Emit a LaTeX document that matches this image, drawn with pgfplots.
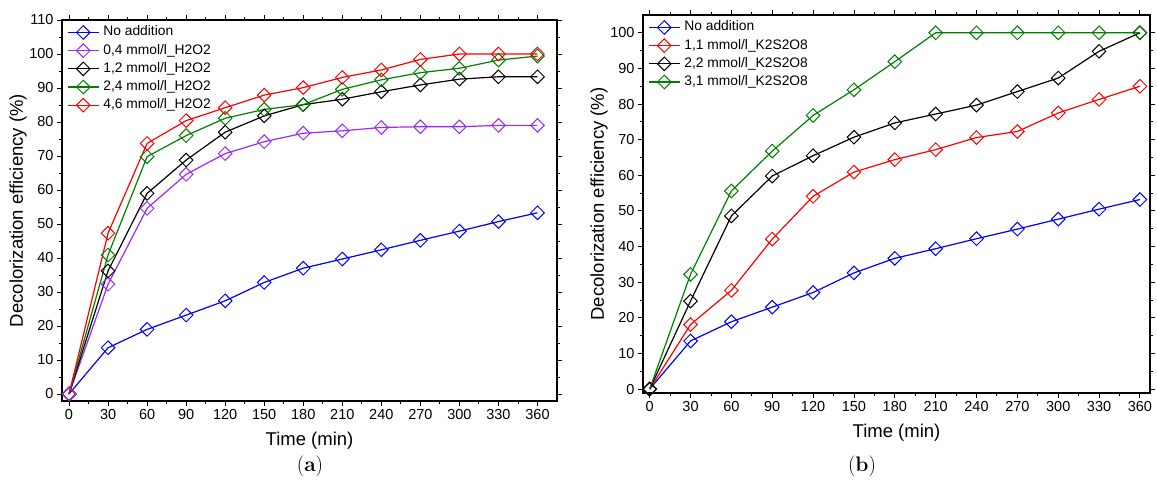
\documentclass[border=0pt]{standalone}
\usepackage{fontspec}
\newfontfamily\arial{Liberation Sans}
\newcommand\legfont{\arial\fontsize{13.8}{15}\selectfont}
\newcommand\tickfont{\arial\fontsize{14.5}{16}\selectfont}
\newcommand\labfont{\arial\fontsize{18.5}{21}\selectfont}
\usepackage{pgfplots}
\usepackage{pgfplotstable}
\pgfplotsset{compat=1.18}
\definecolor{cblue}{RGB}{0,0,255}
\definecolor{cpurple}{RGB}{155,40,255}
\definecolor{cgreen}{RGB}{0,128,0}
\definecolor{cred}{RGB}{255,0,0}
\pgfplotstableread{
t noadd a04 a12 a24 a46
0 0 0 0 0 0
30 13.6 32.3 36.2 40.9 47.3
60 19.0 54.6 59.0 69.8 73.7
90 23.2 64.6 68.8 76.0 80.4
120 27.4 70.7 77.0 81.1 84.2
150 32.8 74.2 81.8 83.7 87.9
180 37.0 76.7 85.1 85.1 90.1
210 39.7 77.4 86.7 89.6 93.1
240 42.4 78.4 88.9 92.4 95.3
270 45.2 78.6 90.9 94.5 98.4
300 47.9 78.6 92.6 95.8 100
330 50.7 79.0 93.3 98.2 100
360 53.3 79.0 93.3 99.4 100
}\tabA
\pgfplotstableread{
t noadd k11 k22 k31
0 0 0 0 0
30 13.5 18.1 24.7 32.2
60 18.9 27.7 48.6 55.6
90 23.0 42.1 59.8 66.8
120 27.1 54.1 65.5 76.8
150 32.6 60.9 70.7 84.0
180 36.7 64.4 74.7 91.9
210 39.4 67.2 77.2 100
240 42.2 70.6 79.7 100
270 44.9 72.3 83.5 100
300 47.7 77.5 87.3 100
330 50.5 81.3 94.8 100
360 53.2 85.0 100 100
}\tabB
\pgfplotsset{
  myaxis/.style={
    scale only axis,
    clip=false,
    axis line style={line width=1.1pt},
    every tick/.style={line width=0.9pt, black},
    tick align=outside,
    major tick length=5pt,
    minor tick length=3pt,
    minor x tick num=1,
    minor y tick num=1,
    xtick={0,30,...,360},
    /pgf/number format/assume math mode=true,
    ticklabel style={font=\tickfont},
    xlabel={Time (min)},
    ylabel={Decolorization efficiency (\%)},
    label style={font=\labfont},
    xlabel style={at={([yshift=-40pt]axis description cs:0.5,0)},anchor=center},
    ylabel style={at={([xshift=-44pt]axis description cs:0,0.5)},anchor=center},
    legend cell align=left,
    legend style={at={(rel axis cs:0,1)}, anchor=north west, draw=none, fill=none,
      inner xsep=5pt, inner ysep=5.5pt, row sep=4.6pt, column sep=4pt,
      font=\legfont,
      nodes={inner sep=0pt, text height=10pt, text depth=3pt, font=\legfont}},
    legend image code/.code={\draw[mark repeat=2,mark phase=2,##1] plot coordinates {(0pt,0pt)(15.5pt,0pt)(31pt,0pt)};},
    every axis plot/.append style={line width=1.2pt, mark=square, mark size=4.8pt,
      mark options={rotate=45, fill=white, solid, line width=1pt}},
  }
}
\begin{document}
\begin{tikzpicture}[x=1pt,y=1pt]
\path[use as bounding box] (0,0) rectangle (1157,486);
\begin{axis}[myaxis, at={(62pt,85pt)}, anchor=south west, width=495pt, height=381pt,
  xmin=-5.4, xmax=375, ymin=-2.06, ymax=110, ytick={0,10,...,110}]
\addplot[color=cblue] table[x=t,y=noadd]{\tabA};
\addlegendentry{No addition}
\addplot[color=cpurple] table[x=t,y=a04]{\tabA};
\addlegendentry{0,4 mmol/l\_H2O2}
\addplot[color=black] table[x=t,y=a12]{\tabA};
\addlegendentry{1,2 mmol/l\_H2O2}
\addplot[color=cgreen] table[x=t,y=a24]{\tabA};
\addlegendentry{2,4 mmol/l\_H2O2}
\addplot[color=cred] table[x=t,y=a46]{\tabA};
\addlegendentry{4,6 mmol/l\_H2O2}
\addplot[color=cpurple, forget plot] coordinates {(0,0)};
\end{axis}
\begin{axis}[myaxis, at={(643pt,93pt)}, anchor=south west, width=507pt, height=378pt,
  xmin=-4.9, xmax=367.4, ymin=-1.1, ymax=105, ytick={0,10,...,100}]
\addplot[color=cblue] table[x=t,y=noadd]{\tabB};
\addlegendentry{No addition}
\addplot[color=cred] table[x=t,y=k11]{\tabB};
\addlegendentry{1,1 mmol/l\_K2S2O8}
\addplot[color=black] table[x=t,y=k22]{\tabB};
\addlegendentry{2,2 mmol/l\_K2S2O8}
\addplot[color=cgreen] table[x=t,y=k31]{\tabB};
\addlegendentry{3,1 mmol/l\_K2S2O8}
\addplot[color=black, forget plot] coordinates {(0,0)};
\end{axis}
\node[font=\fontsize{21}{24}\selectfont] at (310,20) {(\textbf{a})};
\node[font=\fontsize{21}{24}\selectfont] at (862,20) {(\textbf{b})};
\end{tikzpicture}
\end{document}
